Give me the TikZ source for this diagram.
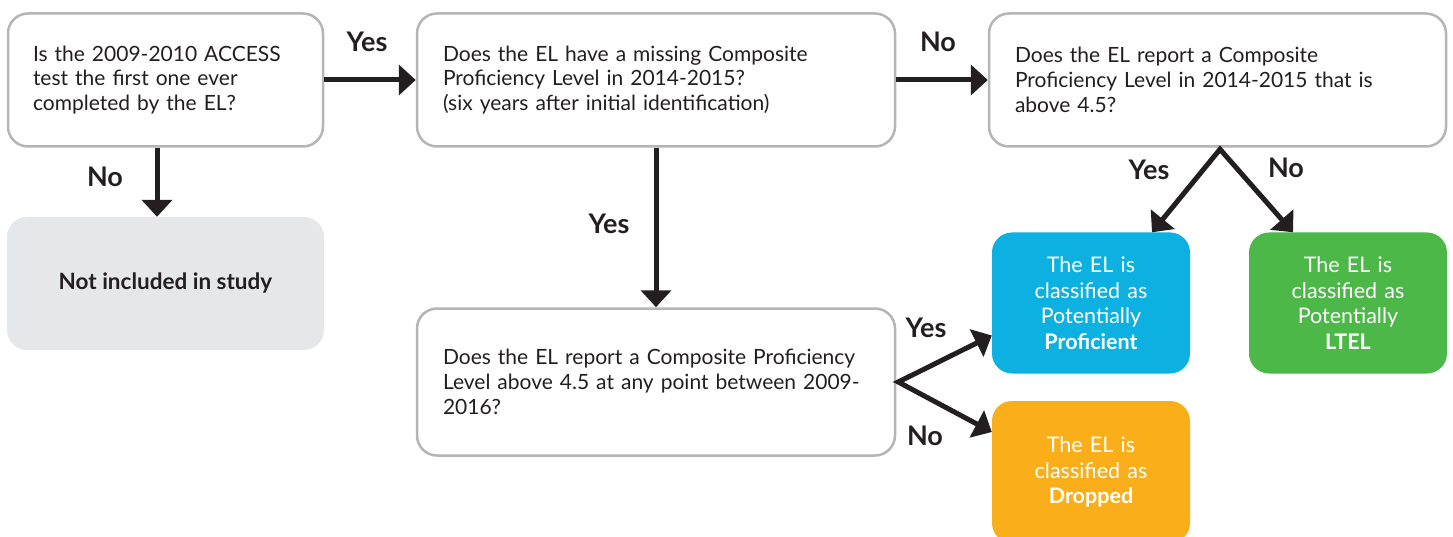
\documentclass[tikz,border=0pt]{standalone}
\usepackage{fontspec}
\setmainfont{Lato}
\usetikzlibrary{arrows.meta}
\definecolor{ink}{HTML}{231F20}
\definecolor{boxgray}{HTML}{B5B5B5}
\definecolor{exclgray}{HTML}{E6E7E8}
\definecolor{profblue}{HTML}{0CB1E2}
\definecolor{ltelgreen}{HTML}{4CB848}
\definecolor{droporange}{HTML}{F9AE1A}
\begin{document}
\begin{tikzpicture}[x=1pt,y=-1pt,
  qbox/.style={draw=boxgray, line width=2.5pt, rounded corners=20pt, fill=white,
    align=left, inner sep=0pt, text=ink, font=\fontsize{21}{24.8}\selectfont},
  rbox/.style={rounded corners=20pt, inner sep=0pt, align=center,
    minimum width=198pt, minimum height=141pt, text width=190pt,
    text=white, font=\fontsize{21.5}{25.5}\selectfont},
  lbl/.style={text=ink, font=\fontsize{27}{30}\selectfont\bfseries, inner sep=0pt},
  arr/.style={draw=ink, line width=5pt, line join=miter,
    -{Triangle[width=30pt,length=17pt]}},
  darr/.style={draw=ink, line width=5pt, line join=miter,
    {Triangle[width=30pt,length=17pt]}-{Triangle[width=30pt,length=17pt]}}
]
\useasboundingbox (0,0) rectangle (1453,537);

\node[qbox, minimum width=315pt, minimum height=133pt, text width=265pt] (q1) at (165.5,80)
  {Is the 2009-2010 ACCESS\\test the first one ever\\completed by the EL?};
\node[qbox, minimum width=478pt, minimum height=133pt, text width=426pt] (q2) at (656,80)
  {Does the EL have a missing Composite\\Proficiency Level in 2014-2015?\\(six years after initial identification)};
\node[qbox, minimum width=457pt, minimum height=133pt, text width=405pt] (q3) at (1217.5,80)
  {Does the EL report a Composite\\Proficiency Level in 2014-2015 that is\\above 4.5?};
\node[qbox, minimum width=478pt, minimum height=147pt, text width=426pt] (q4) at (656,382)
  {Does the EL report a Composite Proficiency\\Level above 4.5 at any point between 2009-\\2016?};

\node[fill=exclgray, rounded corners=20pt, minimum width=317pt, minimum height=133pt,
  text=ink, font=\fontsize{22.5}{26}\selectfont\bfseries] (excl) at (165.5,283.5)
  {Not included in study};

\node[rbox, fill=profblue] (prof) at (1091,303)
  {The EL is\\classified as\\Potentially\\\textbf{Proficient}};
\node[rbox, fill=ltelgreen] (ltel) at (1348,303)
  {The EL is\\classified as\\Potentially\\\textbf{LTEL}};
\node[rbox, fill=droporange, minimum height=142pt] (drop) at (1091,472)
  {The EL is\\classified as\\\textbf{Dropped}};

% connectors
\draw[arr] (q1.east) -- (q2.west);
\draw[arr] ([xshift=-8.5pt]q1.south) -- ([xshift=-8.5pt]excl.north);
\draw[arr] (q2.east) -- (q3.west);
\draw[arr] (q2.south) -- (q4.north);
\coordinate (apex3) at ([xshift=2.5pt,yshift=-1.5pt]q3.south);
\draw[darr] ([xshift=61pt]prof.north) -- (apex3) -- ([xshift=-55pt]ltel.north);
\coordinate (apex4) at ([xshift=2pt]q4.east);
\draw[darr] ([yshift=-32.5pt]prof.west) -- (apex4) -- ([yshift=40pt]drop.west);

% labels
\node[lbl] (l1) at (367,42) {Yes};
\node[lbl] (l2) at (105,177) {No};
\node[lbl] (l3) at (938,42) {No};
\node[lbl] (l4) at (609,224) {Yes};
\node[lbl] (l5) at (1149,170) {Yes};
\node[lbl] (l6) at (1286,168) {No};
\node[lbl] (l7) at (926,328) {Yes};
\node[lbl] (l8) at (925,436) {No};
\end{tikzpicture}
\end{document}
